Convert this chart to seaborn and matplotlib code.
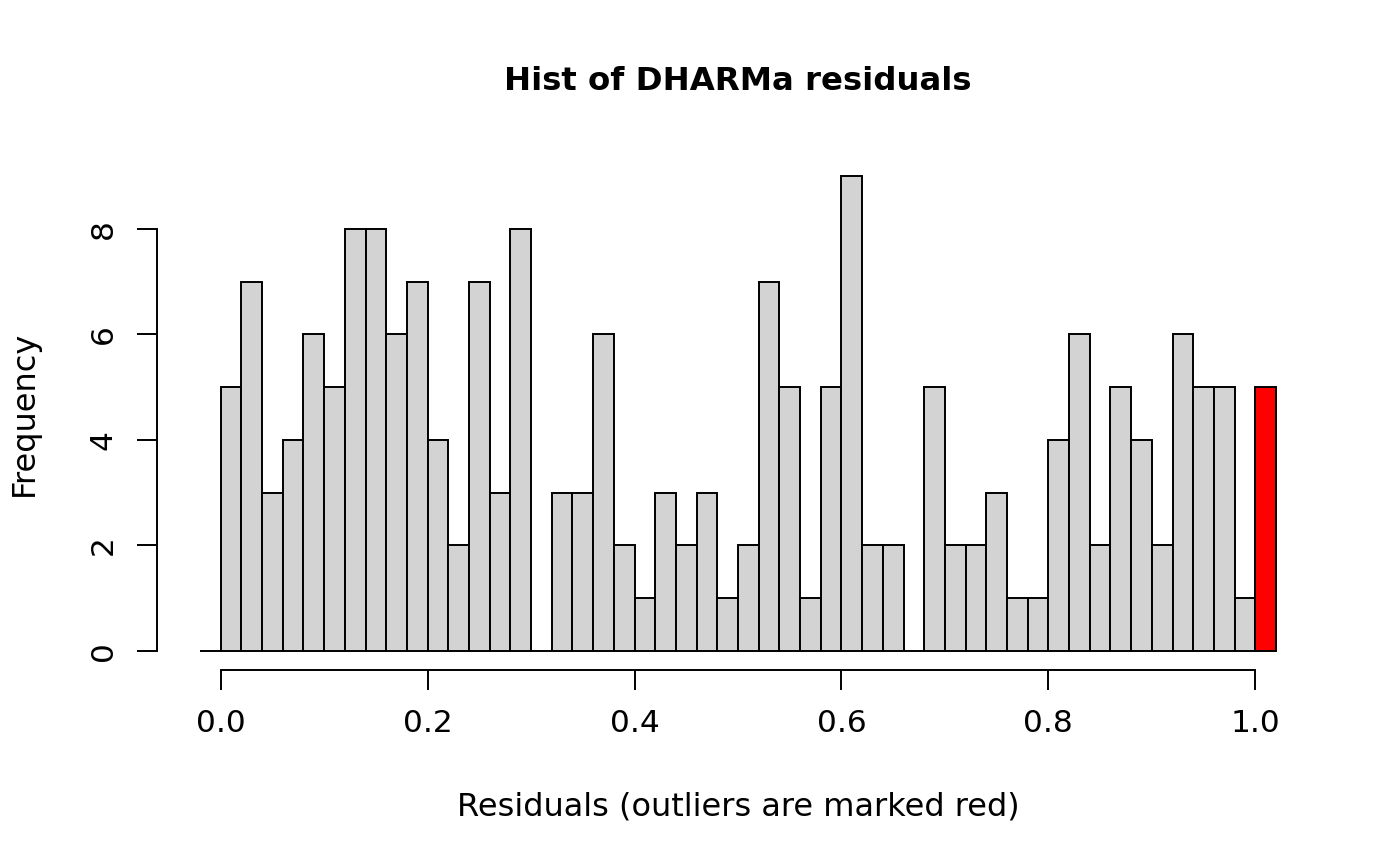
import matplotlib
matplotlib.use("Agg")
import matplotlib.pyplot as plt
import pandas as pd
import seaborn as sns

# residual histogram counts, bins of width 0.02 on [0, 1]
bin_width = 0.02
counts_main = [5, 7, 3, 4, 6, 5, 8, 8, 6, 7,
               4, 2, 7, 3, 8, 0, 3, 3, 6, 2,
               1, 3, 2, 3, 1, 2, 7, 5, 1, 5,
               9, 2, 2, 0, 5, 2, 2, 3, 1, 1,
               4, 6, 2, 5, 4, 2, 6, 5, 5, 1]
# outlier bins below 0 and above 1
outliers_low = 0
outliers_high = 5

x_ticks = [0.0, 0.2, 0.4, 0.6, 0.8, 1.0]
x_tick_labels = ["0.0", "0.2", "0.4", "0.6", "0.8", "1.0"]
y_ticks = [0, 2, 4, 6, 8]

counts = [outliers_low] + counts_main + [outliers_high]
edges = [round(i * bin_width, 4) for i in range(-1, len(counts_main) + 2)]
df = pd.DataFrame({
    "resid": [(a + b) / 2 for a, b in zip(edges[:-1], edges[1:])],
    "n": counts,
})

sns.set_style("ticks")
plt.rcParams["font.family"] = ["DejaVu Sans"]
plt.rcParams["text.color"] = "black"
plt.rcParams["axes.labelcolor"] = "black"

fig = plt.figure(figsize=(14, 8.66), dpi=100)
ax = fig.add_axes([157 / 1400, 1 - 670 / 866, (1319 - 157) / 1400, (670 - 157) / 866])

sns.histplot(data=df, x="resid", weights="n", bins=edges, color="#d3d3d3",
             edgecolor="black", linewidth=1.4, alpha=1, ax=ax)

# outlier bins in red
for i, p in enumerate(ax.patches):
    if i == 0 or i == len(ax.patches) - 1:
        p.set_facecolor("#ff0000")

lo, hi = edges[0], edges[-1]
span = hi - lo
ax.set_xlim(lo - 0.04 * span, hi + 0.04 * span)
ax.set_ylim(-0.04 * 9, 9 * 1.04)

ax.set_xticks(x_ticks)
ax.set_xticklabels(x_tick_labels)
ax.set_yticks(y_ticks)
ax.set_yticklabels([str(v) for v in y_ticks], rotation=90, va="center")

for s in ["top", "right"]:
    ax.spines[s].set_visible(False)
ax.spines["left"].set_bounds(0, 8)
ax.spines["bottom"].set_bounds(0, 1)
for s in ["left", "bottom"]:
    ax.spines[s].set_linewidth(1.4)
    ax.spines[s].set_color("black")

ax.tick_params(axis="both", direction="out", length=14.4, width=1.4,
               labelsize=22.5, pad=14, color="black", labelcolor="black")

ax.set_title("Hist of DHARMa residuals", fontsize=23.3, fontweight="bold",
             pad=48, color="black")
ax.set_xlabel("Residuals (outliers are marked red)", fontsize=23, labelpad=38,
              color="black")
ax.set_ylabel("Frequency", fontsize=23, labelpad=35, color="black")

fig.savefig("out.png", dpi=100, facecolor="white")
plt.close(fig)
